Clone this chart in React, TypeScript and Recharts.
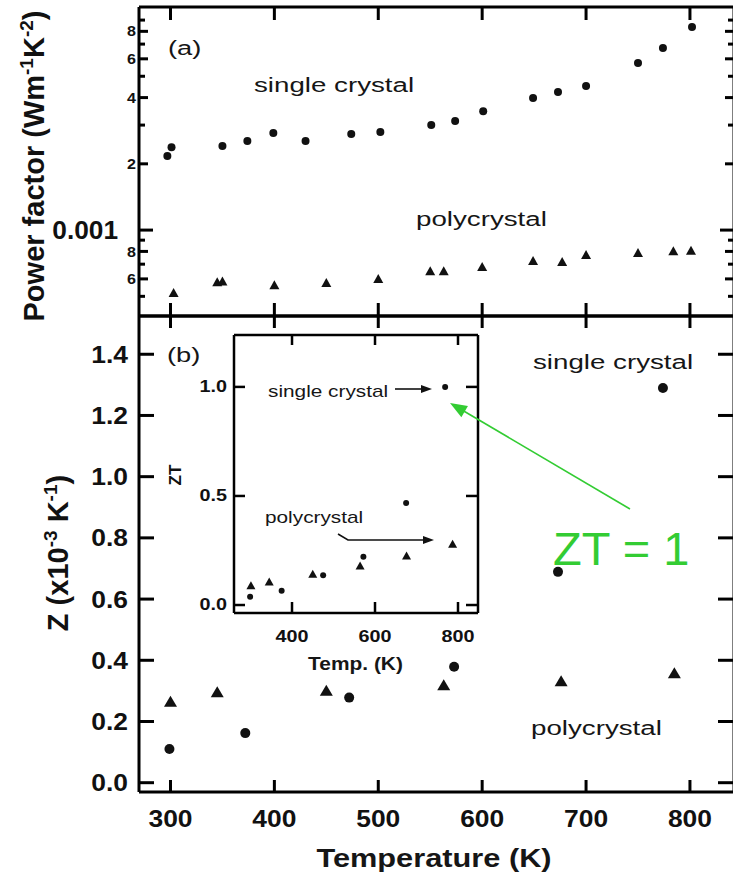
import React from 'react';
import { ScatterChart, Scatter, XAxis, YAxis } from 'recharts';

const FONT = '"Liberation Sans", Arial, Helvetica, sans-serif';
const TICK_COLOR = '#000';

// ---------- Panel (a): power factor (W m^-1 K^-2), log scale ----------
const pfSingleT = [297, 301, 350, 374, 399, 430, 474, 502, 551, 574, 601, 649, 673, 700, 750, 774, 802];
const pfSingleV = [0.00217, 0.00238, 0.00241, 0.00254, 0.00276, 0.00254, 0.00273, 0.00279, 0.003, 0.00313, 0.00347, 0.00398, 0.00424, 0.00452, 0.00574, 0.00672, 0.00837];
const pfPolyT = [303, 345, 350, 400, 450, 500, 550, 563, 600, 649, 677, 700, 750, 784, 801];
const pfPolyV = [0.000512, 0.000574, 0.000578, 0.000556, 0.000569, 0.000593, 0.000644, 0.000644, 0.000672, 0.000716, 0.000708, 0.000762, 0.000778, 0.000794, 0.000798];

// ---------- Panel (b): Z (x10^-3 K^-1) ----------
const zSingleT = [299, 372, 472, 573, 673, 774];
const zSingleV = [0.11, 0.162, 0.278, 0.379, 0.689, 1.29];
const zPolyT = [300, 345, 450, 563, 676, 785];
const zPolyV = [0.26, 0.291, 0.296, 0.314, 0.327, 0.353];

// ---------- Inset: ZT ----------
const ztSingleT = [299, 375, 475, 572, 675, 769];
const ztSingleV = [0.038, 0.065, 0.137, 0.221, 0.468, 1.0];
const ztPolyT = [301, 345, 450, 564, 676, 787];
const ztPolyV = [0.084, 0.102, 0.137, 0.175, 0.221, 0.275];

// ---------- Ticks ----------
const tempTicks = [300, 400, 500, 600, 700, 800];
const pfTicks = [0.0005, 0.0006, 0.0007, 0.0008, 0.0009, 0.001, 0.002, 0.003, 0.004, 0.005, 0.006, 0.007, 0.008, 0.009];
const pfTickText = ['', '6', '', '8', '', '0.001', '2', '', '4', '', '6', '', '8', ''];
const zTicks = [0, 0.2, 0.4, 0.6, 0.8, 1.0, 1.2, 1.4];
const zTickText = ['0.0', '0.2', '0.4', '0.6', '0.8', '1.0', '1.2', '1.4'];
const insetTempTicks = [400, 600, 800];
const insetZtTicks = [0, 0.5, 1.0];
const insetZtText = ['0.0', '0.5', '1.0'];

const X_DOMAIN: [number, number] = [269.7, 842.4];
const PF_DOMAIN: [number, number] = [0.000407, 0.01032];
const Z_DOMAIN: [number, number] = [-0.0304, 1.525];
const INSET_X_DOMAIN: [number, number] = [260.2, 848.2];
const INSET_Y_DOMAIN: [number, number] = [-0.0366, 1.238];

const zip = (t: number[], v: number[]) => t.map((x, i) => ({ t: x, v: v[i] }));
const idxOf = (arr: number[], v: number) => arr.findIndex((a) => Math.abs(a - v) < 1e-9);

type Lab = { text: string; size: number; sx: number; gap: number } | null;
type TickOpts = {
  side: 'left' | 'right' | 'top' | 'bottom';
  len: (v: number) => number;
  label?: (v: number) => Lab;
  sw?: number;
};

// inward-pointing ticks; (x, y) is the point on the axis line (tickSize = tickMargin = 0)
const makeTick = (o: TickOpts) => (p: any) => {
  const { x, y, payload } = p;
  const v = payload.value;
  const L = o.len(v);
  let x2 = x;
  let y2 = y;
  if (o.side === 'left') x2 = x + L;
  else if (o.side === 'right') x2 = x - L;
  else if (o.side === 'top') y2 = y + L;
  else y2 = y - L;
  const lab = o.label ? o.label(v) : null;
  let text: any = null;
  if (lab && lab.text) {
    if (o.side === 'left') {
      text = (
        <text transform={`translate(${x - lab.gap},${y}) scale(${lab.sx},1)`} textAnchor="end" dominantBaseline="central" fontSize={lab.size} fontWeight="bold" fontFamily={FONT} fill="#111">
          {lab.text}
        </text>
      );
    } else if (o.side === 'bottom') {
      text = (
        <text transform={`translate(${x},${y + lab.gap}) scale(${lab.sx},1)`} textAnchor="middle" fontSize={lab.size} fontWeight="bold" fontFamily={FONT} fill="#111">
          {lab.text}
        </text>
      );
    }
  }
  return (
    <g>
      <path d={`M${x},${y}L${x2},${y2}`} stroke={TICK_COLOR} strokeWidth={o.sw ?? 3} fill="none" />
      {text}
    </g>
  );
};

const dotShape = (r: number) => (p: any) => <circle cx={p.cx} cy={p.cy} r={r} fill="#111" />;
const triShape = (w: number, h: number) => (p: any) => {
  const { cx, cy } = p;
  const pts = `${cx},${cy - (h * 2) / 3} ${cx - w / 2},${cy + h / 3} ${cx + w / 2},${cy + h / 3}`;
  return <polygon points={pts} fill="#111" />;
};

const frameLine = (w: number) => ({ stroke: '#000', strokeWidth: w });

const pfLen = (v: number) => {
  const i = idxOf(pfTicks, v);
  if (Math.abs(v - 0.001) < 1e-9) return 14;
  return pfTickText[i] ? 9 : 6;
};
const pfLabel = (v: number): Lab => {
  const i = idxOf(pfTicks, v);
  const t = pfTickText[i];
  if (!t) return null;
  if (t === '0.001') return { text: t, size: 25, sx: 1.05, gap: 21 };
  return { text: t, size: 14, sx: 1.15, gap: 3 };
};

const tickA_left = makeTick({ side: 'left', len: pfLen, label: pfLabel });
const tickA_right = makeTick({ side: 'right', len: pfLen });
const tickA_top = makeTick({ side: 'top', len: () => 13 });
const tickA_bottom = makeTick({ side: 'bottom', len: () => 13 });
const tickB_top = makeTick({ side: 'top', len: () => 12 });
const tickB_bottom = makeTick({ side: 'bottom', len: () => 12, label: (v) => ({ text: String(v), size: 24, sx: 1.1, gap: 35 }) });
const tickB_left = makeTick({ side: 'left', len: () => 15, label: (v) => ({ text: zTickText[idxOf(zTicks, v)], size: 24, sx: 1.1, gap: 11 }) });
const tickB_right = makeTick({ side: 'right', len: () => 16 });
const tickI_bottom = makeTick({ side: 'bottom', len: () => 11, sw: 2.5, label: (v) => ({ text: String(v), size: 16.5, sx: 1.2, gap: 29 }) });
const tickI_top = makeTick({ side: 'top', len: () => 10, sw: 2.5 });
const tickI_left = makeTick({ side: 'left', len: () => 11, sw: 2.5, label: (v) => ({ text: insetZtText[idxOf(insetZtTicks, v)], size: 16.5, sx: 1.2, gap: 7 }) });
const tickI_right = makeTick({ side: 'right', len: () => 12, sw: 2.5 });

const pfSingle = zip(pfSingleT, pfSingleV);
const pfPoly = zip(pfPolyT, pfPolyV);
const zSingle = zip(zSingleT, zSingleV);
const zPoly = zip(zPolyT, zPolyV);
const ztSingle = zip(ztSingleT, ztSingleV);
const ztPoly = zip(ztPolyT, ztPolyV);

const W = 740;
const H = 879;
const abs: React.CSSProperties = { position: 'absolute', left: 0, top: 0 };
const common = { tickSize: 0, tickMargin: 0, tickLine: false, interval: 0 as const, allowDataOverflow: true, type: 'number' as const };

const PanelA = () => (
  <div style={abs}>
    <ScatterChart width={W} height={320} margin={{ top: 0, right: 0, bottom: 0, left: 0 }}>
      <XAxis xAxisId="b" orientation="bottom" dataKey="t" domain={X_DOMAIN} ticks={tempTicks} height={4} {...common} axisLine={frameLine(3)} tick={tickA_bottom} />
      <XAxis xAxisId="t" orientation="top" dataKey="t" domain={X_DOMAIN} ticks={tempTicks} height={7} {...common} axisLine={frameLine(3)} tick={tickA_top} />
      <YAxis yAxisId="l" orientation="left" dataKey="v" scale="log" domain={PF_DOMAIN} ticks={pfTicks} width={139} {...common} axisLine={frameLine(3)} tick={tickA_left} />
      <YAxis yAxisId="r" orientation="right" dataKey="v" scale="log" domain={PF_DOMAIN} ticks={pfTicks} width={6} {...common} axisLine={frameLine(3)} tick={tickA_right} />
      <Scatter name="single crystal" xAxisId="b" yAxisId="l" data={pfSingle} shape={dotShape(4)} isAnimationActive={false} />
      <Scatter name="polycrystal" xAxisId="b" yAxisId="l" data={pfPoly} shape={triShape(10, 9)} isAnimationActive={false} />
      <Scatter xAxisId="t" yAxisId="r" data={pfSingle} shape={() => <g />} isAnimationActive={false} />
    </ScatterChart>
  </div>
);

const PanelB = () => (
  <div style={abs}>
    <ScatterChart width={W} height={H} margin={{ top: 0, right: 0, bottom: 0, left: 0 }}>
      <XAxis xAxisId="b" orientation="bottom" dataKey="t" domain={X_DOMAIN} ticks={tempTicks} height={87} {...common} axisLine={frameLine(3)} tick={tickB_bottom} />
      <XAxis xAxisId="t" orientation="top" dataKey="t" domain={X_DOMAIN} ticks={tempTicks} height={316} {...common} axisLine={frameLine(3)} tick={tickB_top} />
      <YAxis yAxisId="l" orientation="left" dataKey="v" domain={Z_DOMAIN} ticks={zTicks} width={139} {...common} axisLine={frameLine(3)} tick={tickB_left} />
      <YAxis yAxisId="r" orientation="right" dataKey="v" domain={Z_DOMAIN} ticks={zTicks} width={6} {...common} axisLine={frameLine(3)} tick={tickB_right} />
      <Scatter name="single crystal" xAxisId="b" yAxisId="l" data={zSingle} shape={dotShape(5)} isAnimationActive={false} />
      <Scatter name="polycrystal" xAxisId="b" yAxisId="l" data={zPoly} shape={triShape(13, 11)} isAnimationActive={false} />
      <Scatter xAxisId="t" yAxisId="r" data={zSingle} shape={() => <g />} isAnimationActive={false} />
    </ScatterChart>
  </div>
);

const Inset = () => (
  <div style={abs}>
    <ScatterChart width={W} height={H} margin={{ top: 0, right: 0, bottom: 0, left: 0 }}>
      <XAxis xAxisId="b" orientation="bottom" dataKey="t" domain={INSET_X_DOMAIN} ticks={insetTempTicks} height={266} {...common} axisLine={frameLine(2.5)} tick={tickI_bottom} />
      <XAxis xAxisId="t" orientation="top" dataKey="t" domain={INSET_X_DOMAIN} ticks={insetTempTicks} height={335} {...common} axisLine={frameLine(2.5)} tick={tickI_top} />
      <YAxis yAxisId="l" orientation="left" dataKey="v" domain={INSET_Y_DOMAIN} ticks={insetZtTicks} width={234} {...common} axisLine={frameLine(2.5)} tick={tickI_left} />
      <YAxis yAxisId="r" orientation="right" dataKey="v" domain={INSET_Y_DOMAIN} ticks={insetZtTicks} width={262} {...common} axisLine={frameLine(2.5)} tick={tickI_right} />
      <Scatter name="single crystal" xAxisId="b" yAxisId="l" data={ztSingle} shape={dotShape(3)} isAnimationActive={false} />
      <Scatter name="polycrystal" xAxisId="b" yAxisId="l" data={ztPoly} shape={triShape(9, 8)} isAnimationActive={false} />
      <Scatter xAxisId="t" yAxisId="r" data={ztSingle} shape={() => <g />} isAnimationActive={false} />
    </ScatterChart>
  </div>
);

const Txt = (p: { x: number; y: number; size: number; sx?: number; weight?: any; anchor?: any; fill?: string; children: any }) => (
  <text transform={`translate(${p.x},${p.y}) scale(${p.sx ?? 1},1)`} fontSize={p.size} fontWeight={p.weight ?? 'normal'} textAnchor={p.anchor ?? 'start'} fill={p.fill ?? '#161616'} fontFamily={FONT}>
    {p.children}
  </text>
);

const arrowHead = (x1: number, y1: number, x2: number, y2: number, len: number, half: number) => {
  const dx = x2 - x1;
  const dy = y2 - y1;
  const d = Math.hypot(dx, dy);
  const ux = dx / d;
  const uy = dy / d;
  const bx = x2 - ux * len;
  const by = y2 - uy * len;
  return `${x2},${y2} ${bx - uy * half},${by + ux * half} ${bx + uy * half},${by - ux * half}`;
};

const GREEN = '#33cc33';

const Overlay = () => (
  <svg width={733} height={879} style={{ ...abs, pointerEvents: 'none' }}>
    <text transform="translate(44,166) rotate(-90)" textAnchor="middle" fontSize={29} fontWeight="bold" fontFamily={FONT} fill="#111">
      Power factor (Wm<tspan dy={-11} fontSize={19}>-1</tspan>
      <tspan dy={11}>K</tspan>
      <tspan dy={-11} fontSize={19}>-2</tspan>
      <tspan dy={11}>)</tspan>
    </text>
    <text transform="translate(68,553) rotate(-90)" textAnchor="middle" fontSize={29} fontWeight="bold" fontFamily={FONT} fill="#111">
      Z (x10<tspan dy={-11} fontSize={19}>-3</tspan>
      <tspan dy={11}> K</tspan>
      <tspan dy={-11} fontSize={19}>-1</tspan>
      <tspan dy={11}>)</tspan>
    </text>
    <Txt x={434} y={867} size={25} sx={1.23} weight="bold" anchor="middle">Temperature (K)</Txt>
    <Txt x={168} y={55} size={21} sx={1.3}>(a)</Txt>
    <Txt x={254} y={92} size={21} sx={1.32}>single crystal</Txt>
    <Txt x={416} y={226} size={21} sx={1.32}>polycrystal</Txt>
    <Txt x={167} y={362} size={21} sx={1.3}>(b)</Txt>
    <Txt x={533} y={369} size={21} sx={1.32}>single crystal</Txt>
    <Txt x={531} y={735} size={21} sx={1.32}>polycrystal</Txt>
    <Txt x={355.5} y={670} size={19} sx={1.1} weight="bold" anchor="middle">Temp. (K)</Txt>
    <text transform="translate(181,475) rotate(-90)" textAnchor="middle" fontSize={17} fontWeight="bold" fontFamily={FONT} fill="#111">ZT</text>
    <Txt x={268} y={397} size={16} sx={1.3}>single crystal</Txt>
    <line x1={395} y1={389} x2={423} y2={389} stroke="#111" strokeWidth={1.6} />
    <polygon points={arrowHead(395, 389, 432, 389, 11, 4)} fill="#111" />
    <Txt x={265} y={523} size={16} sx={1.3}>polycrystal</Txt>
    <polyline points="338,534 348,540 424,540" fill="none" stroke="#111" strokeWidth={1.6} />
    <polygon points={arrowHead(348, 540, 434, 540, 11, 4)} fill="#111" />
    <line x1={630} y1={509} x2={462} y2={410} stroke={GREEN} strokeWidth={1.6} />
    <polygon points={arrowHead(630, 509, 450, 403, 17, 6.5)} fill={GREEN} />
    <Txt x={553} y={565} size={47} fill={GREEN}>ZT = 1</Txt>
  </svg>
);

export default function App() {
  return (
    <div style={{ position: 'relative', width: 733, height: 879, overflow: 'hidden', background: '#fff' }}>
      <style>{'html,body{margin:0;padding:0;overflow:hidden;background:#fff}'}</style>
      <PanelA />
      <PanelB />
      <Inset />
      <Overlay />
    </div>
  );
}
